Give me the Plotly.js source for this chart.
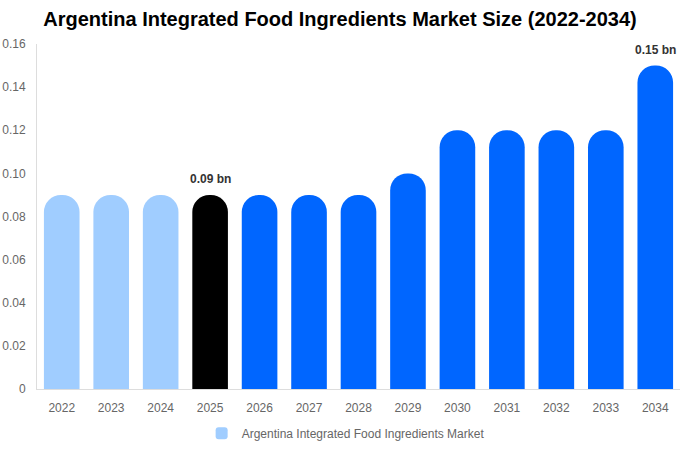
<!DOCTYPE html>
<html>
<head>
<meta charset="utf-8">
<script src="https://cdn.plot.ly/plotly-3.0.1.min.js"></script>
<style>
  body { margin: 0; background: #fff; }
  #chart { width: 680px; height: 450px; }
</style>
</head>
<body>
<div id="chart"></div>
<script>
// market size, USD bn
const years = ["2022", "2023", "2024", "2025", "2026", "2027", "2028",
               "2029", "2030", "2031", "2032", "2033", "2034"];
const values = [0.09, 0.09, 0.09, 0.09, 0.09, 0.09, 0.09,
                0.10, 0.12, 0.12, 0.12, 0.12, 0.15];
const barLabels = ["", "", "", "0.09 bn", "", "", "", "", "", "", "", "", "0.15 bn"];
const yTicks = [0, 0.02, 0.04, 0.06, 0.08, 0.10, 0.12, 0.14, 0.16];
const yTickText = ["0", "0.02", "0.04", "0.06", "0.08", "0.10", "0.12", "0.14", "0.16"];
const seriesName = "Argentina Integrated Food Ingredients Market";

const HIST = "#a0cdff", BASE = "#000000", FCST = "#0066ff";
const FONT = "Liberation Sans, Arial, sans-serif";

// history / base year / forecast colouring
let colors = years.map(function(y) {
  let n = parseInt(y);
  if (n < 2025) return HIST;
  if (n == 2025) return BASE;
  return FCST;
});

let trace = {
  type: "bar",
  x: years,
  y: values,
  name: seriesName,
  marker: { color: colors, cornerradius: "50%" },
  hoverinfo: "x+y",
  showlegend: true
};

// value labels only where the chart has them (x as category index)
let notes = [];
for (let i = 0; i < years.length; i++) {
  if (!barLabels[i]) continue;
  notes.push({
    x: i, y: values[i], xref: "x", yref: "y",
    text: "<b>" + barLabels[i] + "</b>",
    showarrow: false, yanchor: "bottom", yshift: 7,
    font: { family: FONT, size: 12, color: "#333333" }
  });
}

let layout = {
  width: 680, height: 450,
  margin: { l: 37, r: 0, t: 44, b: 61, autoexpand: false },
  paper_bgcolor: "#ffffff",
  plot_bgcolor: "#ffffff",
  font: { family: FONT, size: 12, color: "#666666" },
  title: {
    text: "<b>Argentina Integrated Food Ingredients Market Size (2022-2034)</b>",
    font: { size: 20, color: "#000000" },
    x: 0.5, xanchor: "center", y: 0.973, yanchor: "top"
  },
  bargap: 0.28,
  annotations: notes,
  xaxis: {
    type: "category",
    range: [-0.5, years.length - 0.5],
    showline: true, linecolor: "#dddddd", linewidth: 1,
    ticks: "", showgrid: false, automargin: false,
    ticklabelstandoff: 8,
    tickfont: { size: 12, color: "#666666" }
  },
  yaxis: {
    range: [0, 0.16],
    tickvals: yTicks, ticktext: yTickText,
    showline: true, linecolor: "#dddddd", linewidth: 1,
    showgrid: false, zeroline: false, automargin: false,
    ticks: "", ticklabelstandoff: 8,
    tickfont: { size: 12, color: "#666666" }
  },
  legend: {
    orientation: "h",
    x: 0.48, xanchor: "center",
    y: -0.086, yanchor: "top",
    font: { size: 12, color: "#666666" }
  }
};

Plotly.newPlot("chart", [trace], layout, { displayModeBar: false, staticPlot: true });
</script>
</body>
</html>
